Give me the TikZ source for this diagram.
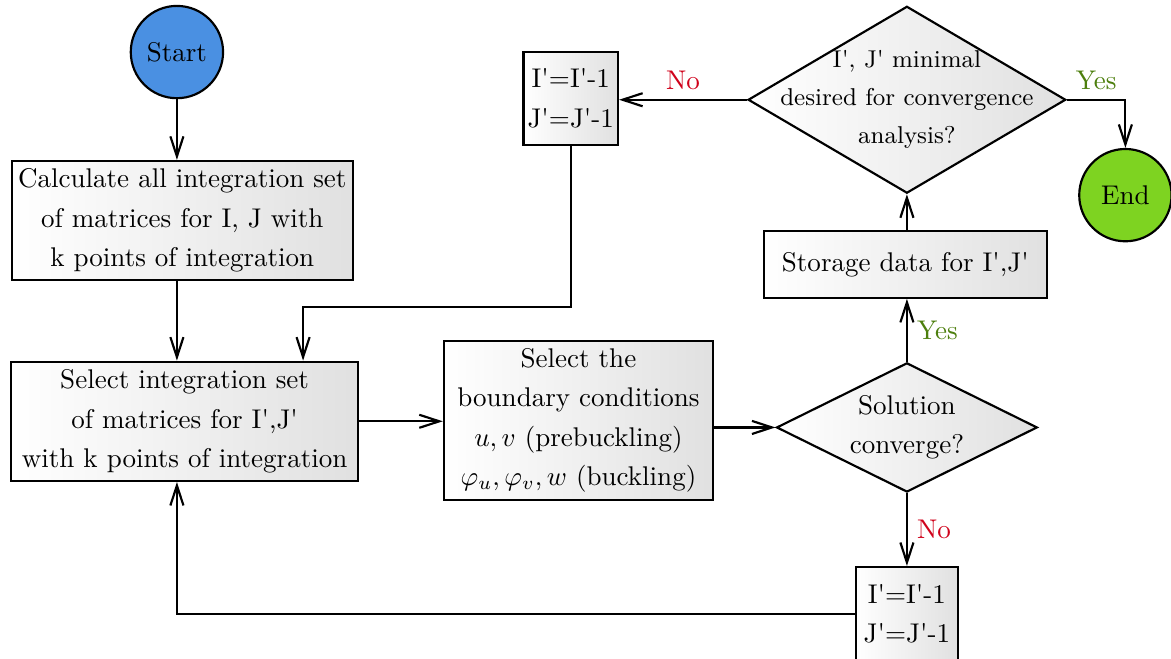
\documentclass[tikz,border=0pt]{standalone}
\usepackage{tikz}
\usetikzlibrary{shapes.geometric,arrows.meta}
\definecolor{startblue}{HTML}{4A90E2}
\definecolor{endgreen}{HTML}{7ED321}
\definecolor{yesgreen}{HTML}{4D7F0E}
\definecolor{nored}{HTML}{D0021B}
\newcommand{\pr}{\textquotesingle}
\tikzset{
  txt/.style={font=\fontsize{10}{14.6}\selectfont, align=center},
  process/.style={draw, thick, txt, left color=white, right color=black!12, inner sep=1.5pt},
  decision/.style={diamond, draw, thick, left color=white, right color=black!12, inner sep=0pt},
  terminal/.style={circle, draw, thick, txt, minimum size=1.2cm, inner sep=0pt},
  conn/.style={thick, -{Straight Barb[length=2.6mm,width=1.7mm]}},
}

\begin{document}
\begin{tikzpicture}
			%%%%% START %%%%%
			\useasboundingbox (0, 0) rectangle (15.223, 8.567);
			
			\node[terminal, fill=startblue] (start) at (2.30, 7.89) {Start};
			\node[process, minimum width=4.43cm, minimum height=1.55cm] (calc) at (2.37, 5.70) {Calculate all integration set\\of matrices for I, J with\\k points of integration};
			\node[process, minimum width=4.51cm, minimum height=1.55cm] (sel) at (2.40, 3.09) {Select integration set\\of matrices for I\pr,J\pr\\with k points of integration};
			\node[process, minimum width=3.50cm, minimum height=2.07cm] (bc) at (7.52, 3.10) {Select the\\boundary conditions\\$u, v$ (prebuckling)\\$\varphi_u, \varphi_v, w$ (buckling)};
			
			\node[decision, minimum width=3.39cm, minimum height=1.68cm, label={[txt]center:Solution\\converge?}] (sol) at (11.79, 3.01) {};
			\node[process, minimum width=3.68cm, minimum height=0.87cm] (store) at (11.77, 5.13) {Storage data for I\pr,J\pr};
			\node[decision, minimum width=4.13cm, minimum height=2.43cm, label={[font=\fontsize{9}{14}\selectfont, align=center]center:I\pr, J\pr{} minimal\\desired for convergence\\analysis?}] (top) at (11.79, 7.27) {};
			
			\node[process, minimum width=1.18cm, minimum height=1.21cm] (upd1) at (7.42, 7.29) {I\pr=I\pr-1\\J\pr=J\pr-1};
			\node[process, minimum width=1.33cm, minimum height=1.21cm] (upd2) at (11.79, 0.59) {I\pr=I\pr-1\\J\pr=J\pr-1};
			\node[terminal, fill=endgreen] (finish) at (14.63, 6.03) {End};
			
			\coordinate (knee) at (3.94, 4.58);
			
			\draw[conn] (start) -- (start |- calc.north);
			\draw[conn] (calc.south -| start) -- (sel.north -| start);
			\draw[conn] (sel.east) -- (sel.east -| bc.west);
			\draw[conn] (sol.west -| bc.east) -- (sol.west);
			\draw[conn] (sol.north) -- node[right, yesgreen, txt] {Yes} (sol.north |- store.south);
			\draw[conn] (store.north -| top) -- (top.south);
			\draw[conn] (top.west) -- node[above, nored, txt] {No} (top.west -| upd1.east);
			\draw[conn] (top.east) -| node[above, pos=0.25, yesgreen, txt] {Yes} (finish.north);
			\draw[conn] (sol.south) -- node[right, nored, txt] {No} (sol.south |- upd2.north);
			\draw[conn] (upd1.south) |- (knee) -- (knee |- sel.north);
			\draw[conn] (upd2.west) -| (sel.south -| start);
			
			%%%%% END %%%%%
\end{tikzpicture}
\end{document}
